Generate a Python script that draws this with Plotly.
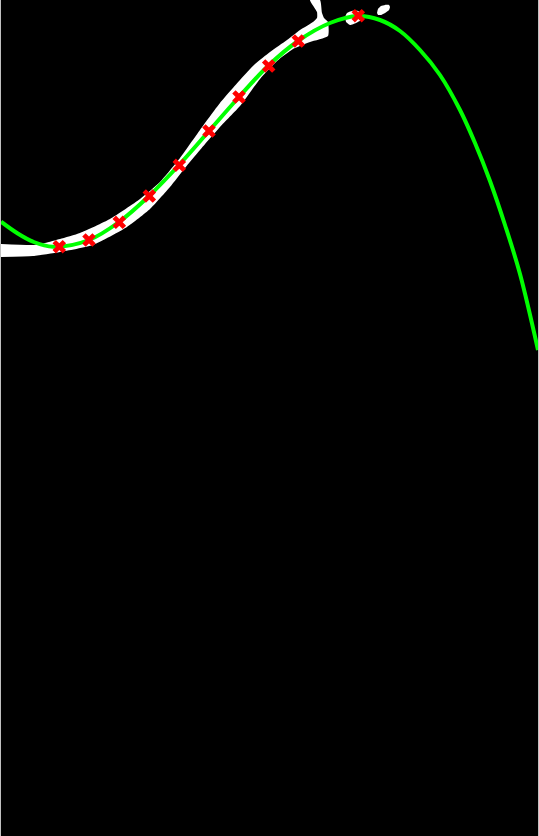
import plotly.graph_objects as go

# mask outline (pixel coords, y downward): upper edge, stalk, lower edge back
mask_x = [0, 33, 45, 60, 80, 110, 140, 160, 180, 200, 220, 240, 255, 270, 287, 300, 313, 317,
          317, 310, 320, 322, 324, 328, 328,
          310, 293, 277, 260, 240, 220, 200, 185, 170, 150, 127, 93, 60, 33, 0]
mask_y = [244, 245, 243, 239, 233, 219, 199, 182, 158, 130, 103, 80, 64, 52, 40, 30, 22, 18,
          12, 0, 0, 13, 18, 22, 36,
          42, 49, 61, 79, 106, 127, 150, 168, 187, 209, 227, 245, 252, 256, 257]

blob_x = [345, 347, 352, 358, 362, 361, 356, 350, 346]
blob_y = [17, 13, 11, 11, 14, 20, 23, 25, 22]

spot_x = [377, 378, 381, 385, 389, 390, 389, 385, 381, 378]
spot_y = [13, 9, 6, 5, 5, 7, 10, 13, 15, 15]

# fitted curve
curve_x = [1, 17, 33, 53, 89, 119, 149, 179, 209, 239, 268, 298, 330, 358,
           380, 400, 420, 440, 460, 475, 490, 505, 520, 538]
curve_y = [221.7, 233, 241.7, 246.8, 240, 222, 196, 165, 131, 97, 66, 41, 23, 16,
           20, 31, 50, 75, 110, 143, 181, 225, 274, 350]

# sampled points
pts_x = [59.3, 89, 119.3, 149.3, 179.3, 209, 239, 268.7, 298.3, 358.3]
pts_y = [246.7, 240, 222.3, 196, 165.3, 131, 97, 66, 41, 15.7]

fig = go.Figure()

for xs, ys in [(mask_x, mask_y), (blob_x, blob_y), (spot_x, spot_y)]:
    fig.add_trace(go.Scatter(x=xs, y=ys, mode='lines', fill='toself',
                             fillcolor='white',
                             line=dict(width=0, color='white', shape='spline', smoothing=0.5),
                             hoverinfo='skip'))

fig.add_trace(go.Scatter(x=curve_x, y=curve_y, mode='lines',
                         line=dict(color='#00ff00', width=4, shape='spline', smoothing=1.0)))

fig.add_trace(go.Scatter(x=pts_x, y=pts_y, mode='markers',
                         marker=dict(symbol='x', size=12, color='red', line=dict(width=0))))

fig.update_xaxes(range=[1, 538], visible=False, fixedrange=True)
fig.update_yaxes(range=[836, 0], visible=False, fixedrange=True)
fig.update_layout(width=539, height=836, showlegend=False,
                  margin=dict(l=1, r=1, t=0, b=0, pad=0),
                  paper_bgcolor='#c0c0c0', plot_bgcolor='black')

fig.write_html("out.html", config={'displayModeBar': False},
               post_script="document.body.style.margin='0';")
